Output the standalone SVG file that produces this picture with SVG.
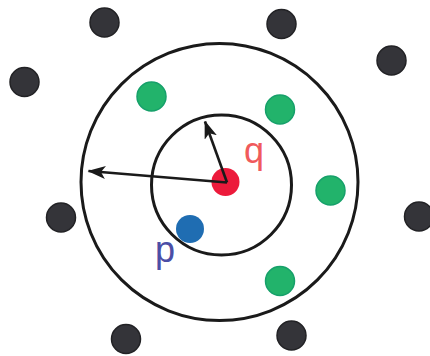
<svg xmlns="http://www.w3.org/2000/svg" width="430" height="356" viewBox="0 0 430 356">
<defs>
<style>
.ring{fill:none;stroke:#1a1a1a;stroke-width:3}
.dark{fill:#343439;stroke:#222225;stroke-width:1.5}
.green{fill:#22b36b;stroke:#16a06a;stroke-width:1.5}
.blue{fill:#1f6db2}
.red{fill:#ec1a3b}
.arrow{stroke:#1a1a1a;stroke-width:2.6;fill:none}
.lbl{font-family:"Liberation Sans",Arial,sans-serif;font-size:36px}
</style>
<marker id="ah" viewBox="0 0 18 13" refX="17" refY="6.5" markerWidth="18" markerHeight="13" markerUnits="userSpaceOnUse" orient="auto">
<path d="M0,0 L18,6.5 L0,13 L4.5,6.5 Z" fill="#1a1a1a"/>
</marker>
</defs>
<rect width="430" height="356" fill="#fff"/>
<g id="outer-ring"><circle class="ring" cx="219.5" cy="182" r="138.5"/></g>
<g id="inner-ring"><circle class="ring" cx="221.5" cy="185" r="70"/></g>
<g id="dark1"><circle class="dark" cx="104.5" cy="22.5" r="14.5"/></g>
<g id="dark2"><circle class="dark" cx="281.5" cy="24" r="14.5"/></g>
<g id="dark3"><circle class="dark" cx="391.5" cy="60.5" r="14.5"/></g>
<g id="dark4"><circle class="dark" cx="24.5" cy="82" r="14.5"/></g>
<g id="dark5"><circle class="dark" cx="61" cy="217.5" r="14.5"/></g>
<g id="dark6"><circle class="dark" cx="419" cy="216.5" r="14.5"/></g>
<g id="dark7"><circle class="dark" cx="126" cy="339" r="14.5"/></g>
<g id="dark8"><circle class="dark" cx="291.5" cy="335.5" r="14.5"/></g>
<g id="green1"><circle class="green" cx="151.5" cy="96.5" r="14.5"/></g>
<g id="green2"><circle class="green" cx="280" cy="109.5" r="14.5"/></g>
<g id="green3"><circle class="green" cx="330.5" cy="190.5" r="14.5"/></g>
<g id="green4"><circle class="green" cx="280" cy="281" r="14.5"/></g>
<g id="p"><circle class="blue" cx="190" cy="229" r="14"/><text class="lbl" x="155" y="262" fill="#4b4ea6">p</text></g>
<g id="q"><circle class="red" cx="225.5" cy="182" r="14"/><text class="lbl" x="244" y="163" fill="#f05a5c">q</text></g>
<g id="connectors">
<line class="arrow" x1="227" y1="182.5" x2="88.5" y2="171" marker-end="url(#ah)"/>
<line class="arrow" x1="227" y1="182.5" x2="205" y2="121.5" marker-end="url(#ah)"/>
</g>
</svg>
